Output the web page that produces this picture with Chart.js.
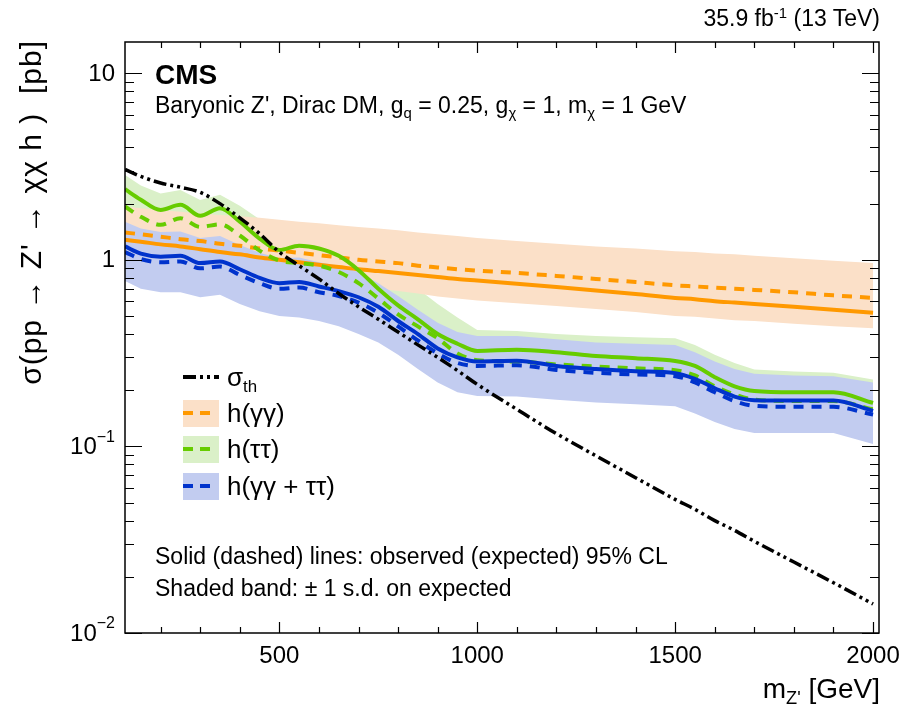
<!DOCTYPE html>
<html lang="en">
<head>
<meta charset="UTF-8">
<title>CMS mono-Higgs limits</title>
<script src="https://cdn.jsdelivr.net/npm/chart.js"></script>
<style>
  body { margin: 0; background: #fff; }
  #wrap { position: relative; width: 906px; height: 714px; font-family: "Liberation Sans", Arial, sans-serif; color: #000; }
  #wrap canvas { position: absolute; left: 0; top: 0; }
  .txt { position: absolute; white-space: pre; line-height: 1; }
  .txt sub, .txt sup { font-size: 65%; line-height: 0; }
  .txt sub { vertical-align: -0.35em; }
  .txt sup { vertical-align: 0.55em; }
</style>
</head>
<body>
<div id="wrap">
  <canvas id="myChart" width="906" height="714"></canvas>
  <div class="txt" style="right:26px; top:7px; font-size:23px;">35.9 fb<sup>-1</sup> (13 TeV)</div>
  <div class="txt" style="left:15px; top:392px; width:352px; text-align:right; font-size:30px; letter-spacing:1px; line-height:32px; transform-origin:0 0; transform:rotate(-90deg);">σ(pp → Z' → χχ h )  [pb]</div>
  <div class="txt" style="right:26px; top:675px; font-size:28px;">m<sub>Z'</sub> [GeV]</div>
  <div class="txt" style="left:155px; top:61px; font-size:28px; font-weight:bold;">CMS</div>
  <div class="txt" style="left:155px; top:94px; font-size:23px;">Baryonic Z', Dirac DM, g<sub>q</sub> = 0.25, g<sub>χ</sub> = 1, m<sub>χ</sub> = 1 GeV</div>
  <div class="txt" style="left:227px; top:364px; font-size:26px;">σ<sub>th</sub></div>
  <div class="txt" style="left:227px; top:400px; font-size:26px;">h(γγ)</div>
  <div class="txt" style="left:227px; top:436px; font-size:26px;">h(ττ)</div>
  <div class="txt" style="left:227px; top:473px; font-size:26px;">h(γγ + ττ)</div>
  <div class="txt" style="left:155px; top:545px; font-size:23px;">Solid (dashed) lines: observed (expected) 95% CL</div>
  <div class="txt" style="left:155px; top:577px; font-size:23px;">Shaded band: ± 1 s.d. on expected</div>
</div>

<script>
  // m_Z' grid (GeV)
  const massGeV = [110, 150, 200, 250, 300, 350, 400, 450, 500, 550, 600, 650, 700, 750, 800, 850, 900, 950,
                   1000, 1100, 1200, 1300, 1400, 1500, 1550, 1600, 1650, 1700, 1800, 1900, 2000];

  // theory cross section (pb)
  const sigmaTh = [3.05, 2.8, 2.58, 2.45, 2.3, 2.0, 1.68, 1.38, 1.10, 0.93, 0.79, 0.66, 0.56, 0.48, 0.41, 0.35, 0.30, 0.255,
                   0.215, 0.158, 0.117, 0.089, 0.068, 0.052, 0.046, 0.040, 0.0355, 0.031, 0.024, 0.0186, 0.0143];

  // h(gamma gamma)
  const ggObs = [1.28, 1.25, 1.21, 1.18, 1.14, 1.10, 1.07, 1.03, 1.00, 0.97, 0.94, 0.915, 0.89, 0.87, 0.85, 0.83, 0.81, 0.79,
                 0.775, 0.745, 0.715, 0.685, 0.655, 0.625, 0.615, 0.60, 0.59, 0.58, 0.56, 0.54, 0.52];
  const ggExp = [1.40, 1.37, 1.33, 1.29, 1.26, 1.22, 1.19, 1.15, 1.12, 1.09, 1.06, 1.03, 1.00, 0.98, 0.96, 0.93, 0.91, 0.89,
                 0.875, 0.85, 0.82, 0.79, 0.76, 0.73, 0.72, 0.71, 0.70, 0.69, 0.67, 0.645, 0.625];
  const ggUp  = [1.93, 1.89, 1.85, 1.81, 1.77, 1.74, 1.71, 1.68, 1.64, 1.60, 1.57, 1.53, 1.50, 1.47, 1.44, 1.40, 1.37, 1.34,
                 1.31, 1.26, 1.22, 1.18, 1.15, 1.11, 1.10, 1.08, 1.07, 1.05, 1.02, 0.99, 0.96];
  const ggLo  = [0.97, 0.95, 0.93, 0.91, 0.89, 0.87, 0.84, 0.82, 0.80, 0.78, 0.76, 0.74, 0.72, 0.70, 0.68, 0.66, 0.635, 0.62,
                 0.605, 0.585, 0.565, 0.545, 0.525, 0.50, 0.495, 0.485, 0.475, 0.47, 0.455, 0.44, 0.43];

  // h(tau tau)
  const ttObs = [2.39, 2.1, 1.85, 1.97, 1.72, 1.89, 1.6, 1.3, 1.13, 1.19, 1.15, 1.05, 0.88, 0.70, 0.57, 0.48, 0.40, 0.355,
                 0.325, 0.33, 0.32, 0.305, 0.297, 0.287, 0.27, 0.235, 0.21, 0.198, 0.195, 0.195, 0.171];
  const ttExp = [1.93, 1.7, 1.54, 1.67, 1.5, 1.55, 1.35, 1.12, 0.99, 0.96, 0.93, 0.86, 0.75, 0.62, 0.51, 0.44, 0.38, 0.315,
                 0.29, 0.285, 0.275, 0.268, 0.262, 0.256, 0.24, 0.21, 0.19, 0.178, 0.175, 0.175, 0.158];
  const ttUp  = [2.85, 2.5, 2.27, 2.37, 2.09, 2.23, 1.95, 1.65, 1.45, 1.40, 1.35, 1.25, 1.10, 0.92, 0.80, 0.70, 0.58, 0.49,
                 0.42, 0.415, 0.40, 0.39, 0.385, 0.38, 0.35, 0.31, 0.28, 0.258, 0.252, 0.248, 0.228];
  const ttLo  = [1.35, 1.19, 1.08, 1.17, 1.05, 1.08, 0.95, 0.78, 0.69, 0.67, 0.65, 0.60, 0.52, 0.43, 0.36, 0.31, 0.265, 0.22,
                 0.20, 0.20, 0.193, 0.188, 0.183, 0.18, 0.168, 0.147, 0.133, 0.125, 0.123, 0.123, 0.11];

  // combination
  const combObs = [1.18, 1.08, 1.04, 1.05, 0.96, 0.98, 0.89, 0.80, 0.75, 0.76, 0.72, 0.68, 0.63, 0.56, 0.47, 0.40, 0.335, 0.30,
                   0.285, 0.288, 0.27, 0.26, 0.253, 0.247, 0.23, 0.205, 0.185, 0.177, 0.176, 0.176, 0.155];
  const combExp = [1.10, 1.01, 0.97, 0.98, 0.90, 0.92, 0.83, 0.75, 0.70, 0.71, 0.67, 0.64, 0.59, 0.52, 0.44, 0.37, 0.315, 0.28,
                   0.27, 0.272, 0.257, 0.248, 0.243, 0.238, 0.22, 0.195, 0.175, 0.165, 0.163, 0.163, 0.148];
  const combUp  = [1.60, 1.47, 1.41, 1.42, 1.31, 1.34, 1.20, 1.09, 1.02, 1.03, 0.97, 0.93, 0.86, 0.75, 0.64, 0.54, 0.46, 0.41,
                   0.39, 0.39, 0.375, 0.36, 0.355, 0.35, 0.32, 0.285, 0.26, 0.245, 0.24, 0.238, 0.22];
  const combLo  = [0.77, 0.70, 0.67, 0.67, 0.63, 0.65, 0.58, 0.53, 0.50, 0.49, 0.47, 0.44, 0.40, 0.36, 0.31, 0.26, 0.22, 0.195,
                   0.186, 0.185, 0.178, 0.172, 0.168, 0.164, 0.15, 0.135, 0.124, 0.118, 0.118, 0.118, 0.103];

  const xTicks = [500, 1000, 1500, 2000];
  const yTicks = [0.01, 0.1, 1, 10];
  const yTickLabels = [['10', '\u22122'], ['10', '\u22121'], ['1', ''], ['10', '']];

  const ORANGE = '#ff9900', ORANGE_BAND = '#fbe0c8';
  const GREEN = '#66cc00', GREEN_BAND = '#daf0c8';
  const BLUE = '#0033cc', BLUE_BAND = '#c2ccf0';
  const FONT = '"Liberation Sans", Arial, sans-serif';

  const pts = arr => arr.map((v, i) => ({ x: massGeV[i], y: v }));

  function curve(data, color, dashed) {
    return {
      data: pts(data), borderColor: color, borderWidth: 4, borderDash: dashed ? [10, 8] : [],
      pointRadius: 0, fill: false, cubicInterpolationMode: 'monotone'
    };
  }
  function bandEdge(data, color, fillTo) {
    return {
      data: pts(data), borderWidth: 0, borderColor: 'rgba(0,0,0,0)', backgroundColor: color,
      pointRadius: 0, tension: 0, fill: fillTo
    };
  }

  // first dataset is drawn on top
  const datasets = [
    { data: pts(sigmaTh), borderColor: '#000', borderWidth: 3.5, borderDash: [13, 4, 3, 4, 3, 4],
      pointRadius: 0, fill: false, cubicInterpolationMode: 'monotone' },
    curve(combObs, BLUE, false),
    curve(combExp, BLUE, true),
    curve(ttObs, GREEN, false),
    curve(ttExp, GREEN, true),
    curve(ggObs, ORANGE, false),
    curve(ggExp, ORANGE, true),
    bandEdge(combUp, BLUE_BAND, '+1'),
    bandEdge(combLo, BLUE_BAND, false),
    bandEdge(ggUp, ORANGE_BAND, '+1'),
    bandEdge(ggLo, ORANGE_BAND, false),
    bandEdge(ttUp, GREEN_BAND, '+1'),
    bandEdge(ttLo, GREEN_BAND, false)
  ];

  // frame, inside ticks, y labels, legend symbols
  const decorations = {
    id: 'decorations',
    afterDraw(chart) {
      const { ctx, chartArea: a, scales: { x, y } } = chart;
      ctx.save();
      ctx.strokeStyle = '#000';
      ctx.lineWidth = 1.5;
      ctx.setLineDash([]);
      ctx.strokeRect(a.left, a.top, a.right - a.left, a.bottom - a.top);

      ctx.lineWidth = 1.2;
      ctx.beginPath();
      for (let m = 200; m <= 2000; m += 100) {
        const px = Math.round(x.getPixelForValue(m)) + 0.5;
        const len = m % 500 === 0 ? 11 : 6;
        ctx.moveTo(px, a.bottom); ctx.lineTo(px, a.bottom - len);
        ctx.moveTo(px, a.top); ctx.lineTo(px, a.top + len);
      }
      for (let e = -2; e <= 1; e++) {
        for (let k = 1; k <= 9; k++) {
          const v = k * Math.pow(10, e);
          if (v < y.min || v > y.max) continue;
          const py = Math.round(y.getPixelForValue(v)) + 0.5;
          const len = k === 1 ? 17 : 9;
          ctx.moveTo(a.left, py); ctx.lineTo(a.left + len, py);
          ctx.moveTo(a.right, py); ctx.lineTo(a.right - len, py);
        }
      }
      ctx.stroke();

      // y tick labels
      ctx.fillStyle = '#000';
      ctx.textBaseline = 'middle';
      yTicks.forEach((v, i) => {
        const py = y.getPixelForValue(v);
        const [base, sup] = yTickLabels[i];
        let right = a.left - 10;
        if (sup) {
          ctx.font = '16px ' + FONT;
          ctx.textAlign = 'right';
          ctx.fillText(sup, right, py - 9);
          right -= ctx.measureText(sup).width;
        }
        ctx.font = '24px ' + FONT;
        ctx.textAlign = 'right';
        ctx.fillText(base, right, py + 1);
      });

      // legend symbols
      const lx0 = 183, lx1 = 219;
      const rows = [
        { y: 377, band: null, color: '#000', dash: [13, 4, 3, 4, 3, 4] },
        { y: 413, band: ORANGE_BAND, color: ORANGE, dash: [10, 7] },
        { y: 449, band: GREEN_BAND, color: GREEN, dash: [10, 7] },
        { y: 486, band: BLUE_BAND, color: BLUE, dash: [10, 7] }
      ];
      rows.forEach(r => {
        if (r.band) {
          ctx.fillStyle = r.band;
          ctx.fillRect(lx0, r.y - 13, lx1 - lx0, 27);
        }
        ctx.strokeStyle = r.color;
        ctx.lineWidth = 4;
        ctx.setLineDash(r.dash);
        ctx.beginPath();
        ctx.moveTo(lx0, r.y);
        ctx.lineTo(r.band ? 211 : lx1, r.y);
        ctx.stroke();
      });
      ctx.restore();
    }
  };

  new Chart(document.getElementById('myChart').getContext('2d'), {
    type: 'line',
    data: { datasets },
    options: {
      responsive: false,
      animation: false,
      devicePixelRatio: 1,
      layout: { padding: { left: 125, right: 27, top: 42, bottom: 0 } },
      plugins: { legend: { display: false }, tooltip: { enabled: false } },
      scales: {
        x: {
          type: 'linear', min: 110, max: 2015,
          grid: { display: false, drawTicks: false },
          border: { display: false },
          afterBuildTicks: s => { s.ticks = xTicks.map(v => ({ value: v })); },
          afterFit: s => { s.height = 81; s.paddingLeft = 0; s.paddingRight = 0; },
          ticks: { color: '#000', font: { family: FONT, size: 24 }, padding: 9, maxRotation: 0, autoSkip: false,
                   callback: v => String(v) }
        },
        y: {
          type: 'logarithmic', min: 0.01, max: 14.7,
          grid: { display: false, drawTicks: false },
          border: { display: false },
          ticks: { display: false },
          afterFit: s => { s.width = 0; }
        }
      }
    },
    plugins: [decorations]
  });
</script>
</body>
</html>
